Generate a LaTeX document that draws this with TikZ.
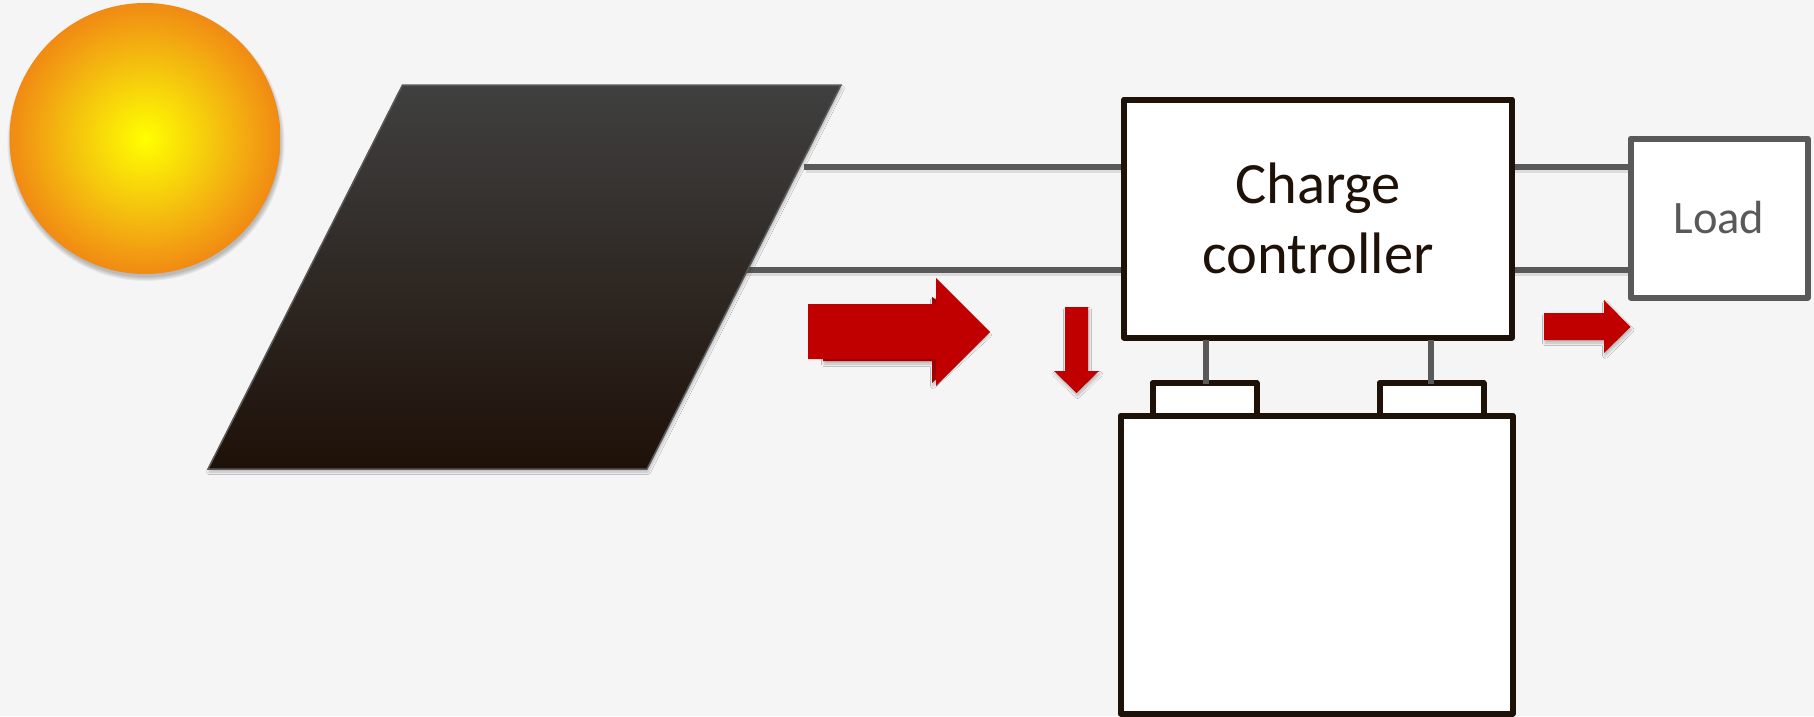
\documentclass[tikz,border=0pt]{standalone}
\usepackage{fontspec}
\setmainfont{Carlito}
\usetikzlibrary{shadows.blur}
\definecolor{bgc}{HTML}{F5F5F5}
\definecolor{ink}{HTML}{1E1108}
\definecolor{wire}{HTML}{595959}
\definecolor{redc}{HTML}{C00000}
\definecolor{redd}{HTML}{A00000}
\definecolor{sunout}{HTML}{F18A14}
\definecolor{sunmid}{HTML}{F5C60E}
\pgfdeclareradialshading{sunshade}{\pgfpointorigin}{color(0bp)=(yellow); color(12.5bp)=(sunmid); color(25bp)=(sunout); color(100bp)=(sunout)}
\tikzset{
  softshadow/.style={blur shadow={shadow xshift=1pt,shadow yshift=-3pt,shadow blur radius=2.5pt,shadow opacity=25,shadow blur steps=8}},
  inkbox/.style={draw=ink,line width=6pt,fill=white,rectangle,inner sep=0pt,outer sep=0pt,line join=round},
  loadbox/.style={draw=wire,line width=6pt,fill=white,rectangle,inner sep=0pt,outer sep=0pt,line join=round,text=wire},
  wireline/.style={draw=wire,line width=6pt,shorten <=3pt,shorten >=3pt},
  stemline/.style={draw=wire,line width=6pt},
  redarrow/.style={fill=redc,softshadow},
}
\begin{document}
\begin{tikzpicture}[x=1pt,y=-1pt]
\useasboundingbox (0,0) rectangle (1814,716);
\fill[bgc] (0,0) rectangle (1814,716);
% sun shadow, built from faint discs
\coordinate (sunc) at (145,138.5);
\foreach \r in {138.5,137.5,136.5,135.5,134.5}{
  \fill[black,opacity=0.05] ([shift={(1pt,-4pt)}]sunc) circle (\r pt);
}
\node[circle,minimum size=271pt,inner sep=0pt,shading=sunshade] (sun) at (sunc) {};
% free ends of the wires at the panel
\coordinate (pu) at (804,167);
\coordinate (pl) at (746,270);
% controller / load nodes
\node[inkbox,minimum width=388pt,minimum height=238pt,align=center,text=ink,font=\fontsize{58.5pt}{70.5pt}\selectfont] (cc) at (1318,218.5) {Charge\\[0pt]controller};
\node[loadbox,minimum width=177pt,minimum height=159pt,font=\fontsize{46.5pt}{55pt}\selectfont] (load) at (1719,218) {\raisebox{-1pt}{Load}};
% wires
\draw[wireline,shorten <=0pt] (pu) -- (pu -| cc.west);
\draw[wireline,shorten <=0pt] (pl) -- (pl -| cc.west);
\draw[wireline] (cc.east |- pu) -- (load.west |- pu);
\draw[wireline] (cc.east |- pl) -- (load.west |- pl);
% wire shadows
\fill[black,opacity=0.1] (806,170) rectangle (1121,173);
\fill[black,opacity=0.1] (746,273) rectangle (1121,276);
\fill[black,opacity=0.1] (1515,170) rectangle (1628,173);
\fill[black,opacity=0.1] (1515,273) rectangle (1628,276);
% panel
\draw[draw=wire,line width=1.5pt,top color=black!75,bottom color=ink,line join=miter,softshadow]
  (402.5,85) -- (841,85) -- (647,469) -- (208,469) -- cycle;
% battery
\node[inkbox,minimum width=104pt,minimum height=32.5pt] (t1) at (1204.5,399.25) {};
\node[inkbox,minimum width=104pt,minimum height=32.5pt] (t2) at (1431.5,399.25) {};
\node[inkbox,minimum width=392pt,minimum height=298pt] (bat) at (1316.5,564.5) {};
\coordinate (c1) at (1205.5,340);
\draw[stemline] (c1) -- ([yshift=-1pt]c1 |- t1.north);
\coordinate (c2) at (1431,340);
\draw[stemline] (c2) -- ([yshift=-1pt]c2 |- t2.north);
% red arrows
\fill[redd,softshadow] (823,305) -- (932,305) -- (932,297) -- (988,332) -- (932,383) -- (932,361) -- (823,361) -- cycle;
\fill[redc] (808,304) -- (936,304) -- (936,278) -- (990,332) -- (936,386) -- (936,359) -- (808,359) -- cycle;
\fill[redarrow] (1065,307) -- (1088,307) -- (1088,371) -- (1099,371) -- (1076.5,393) -- (1054,371) -- (1065,371) -- cycle;
\fill[redarrow] (1544,313) -- (1604,313) -- (1604,300) -- (1630.5,327) -- (1604,353) -- (1604,340) -- (1544,340) -- cycle;
\end{tikzpicture}
\end{document}
